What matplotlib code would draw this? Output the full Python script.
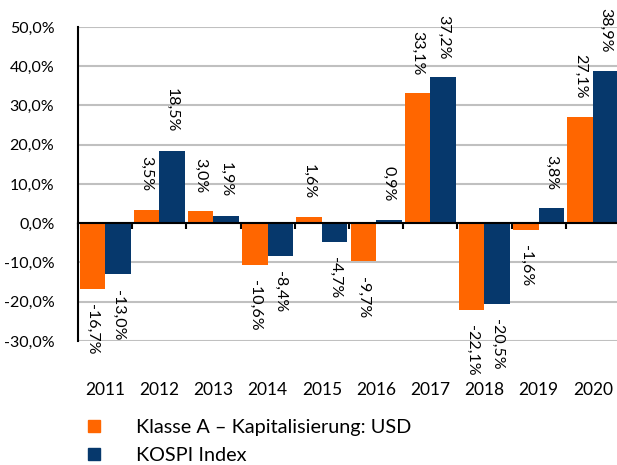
import matplotlib
matplotlib.use("Agg")
import matplotlib.pyplot as plt
from matplotlib.lines import Line2D
import numpy as np

years = ["2011", "2012", "2013", "2014", "2015", "2016", "2017", "2018", "2019", "2020"]
klasse_a = [-16.7, 3.5, 3.0, -10.6, 1.6, -9.7, 33.1, -22.1, -1.6, 27.1]
kospi = [-13.0, 18.5, 1.9, -8.4, -4.7, 0.9, 37.2, -20.5, 3.8, 38.9]
series_names = ["Klasse A \u2013 Kapitalisierung: USD", "KOSPI Index"]
yticks = [-30, -20, -10, 0, 10, 20, 30, 40, 50]

ORANGE = "#FF6600"
BLUE = "#06386C"
FONT = "Lato"

plt.rcParams['font.family'] = [FONT, 'DejaVu Sans']

W, H = 617, 465
fig = plt.figure(figsize=(W / 100, H / 100), dpi=100)
left, right, top, bottom = 78, 620, 27, 341
ax = fig.add_axes([left / W, 1 - bottom / H, (right - left) / W, (bottom - top) / H])

x = np.arange(len(years))
bw = 0.47
ax.bar(x - bw / 2, klasse_a, width=bw, color=ORANGE, zorder=3)
ax.bar(x + bw / 2, kospi, width=bw, color=BLUE, zorder=3)

def fmt(v):
    return f"{v:.1f}%".replace(".", ",")

for xs, vals in ((x - bw / 2, klasse_a), (x + bw / 2, kospi)):
    for xi, v in zip(xs, vals):
        off = 13 if v >= 0 else -11
        ax.annotate(fmt(v), (xi, v), xytext=(0, off), textcoords="offset points",
                    rotation=270, ha="center", va="bottom" if v >= 0 else "top",
                    fontsize=11.5, color="black")

ax.set_xlim(-0.5, len(years) - 0.5)
ax.set_ylim(-30, 50)
ax.set_yticks(yticks)
ax.set_yticklabels([f"{t:.1f}%".replace(".", ",") for t in yticks], fontsize=11.5)
ax.tick_params(axis="y", length=0, pad=17)
ax.yaxis.grid(True, color="#C0C0C0", linewidth=1.5, zorder=0)

# x axis at zero with ticks at category boundaries
ax.spines['bottom'].set_position(('data', 0))
ax.spines['bottom'].set_linewidth(1.5)
ax.spines['bottom'].set_zorder(4)
ax.spines['left'].set_linewidth(1.5)
ax.spines['top'].set_visible(False)
ax.spines['right'].set_visible(False)
ax.set_xticks(np.arange(len(years) + 1) - 0.5)
ax.set_xticklabels([])
ax.tick_params(axis="x", direction="out", length=4, width=1.5, color="black")

trans = matplotlib.transforms.blended_transform_factory(ax.transData, ax.transAxes)
for xi, yr in zip(x, years):
    ax.text(xi, -(390 - bottom) / (bottom - top), yr, transform=trans,
            ha="center", va="center", fontsize=12.5)

handles = [Line2D([], [], marker="s", linestyle="none", markersize=9, color=c)
           for c in (ORANGE, BLUE)]
fig.legend(handles, series_names, loc="upper left",
           bbox_to_anchor=(84 / W, 1 - 419 / H), frameon=False, fontsize=14.3,
           handlelength=1.0, handletextpad=1.6, labelspacing=0.55,
           borderaxespad=0, borderpad=0)

fig.savefig("out.png", dpi=100)
